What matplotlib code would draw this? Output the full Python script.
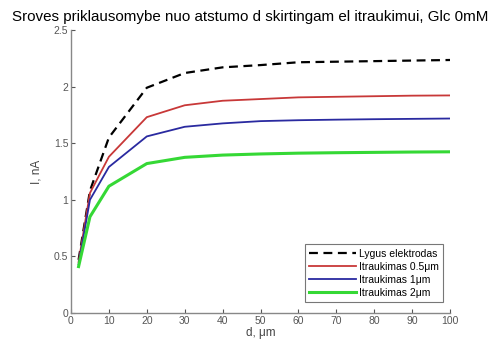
import matplotlib.pyplot as plt
from matplotlib.ticker import FuncFormatter

plt.rcParams["font.family"] = ["Liberation Sans", "DejaVu Sans"]

# distance from the electrode, um
d_um = [2, 5, 10, 20, 30, 40, 50, 60, 70, 80, 90, 100]

# current, nA
i_flat = [0.47, 1.08, 1.55, 1.99, 2.12, 2.17, 2.19, 2.215, 2.22, 2.225, 2.23, 2.235]
i_rec_05 = [0.45, 1.06, 1.38, 1.73, 1.835, 1.875, 1.89, 1.905, 1.91, 1.915, 1.92, 1.922]
i_rec_1 = [0.43, 1.0, 1.29, 1.56, 1.645, 1.675, 1.695, 1.703, 1.708, 1.712, 1.715, 1.718]
i_rec_2 = [0.41, 0.85, 1.12, 1.32, 1.375, 1.395, 1.405, 1.412, 1.416, 1.419, 1.422, 1.424]

labels = ["Lygus elektrodas", "Itraukimas 0.5\u03bcm",
          "Itraukimas 1\u03bcm", "Itraukimas 2\u03bcm"]

fig = plt.figure(figsize=(5.0, 3.47), dpi=100)
ax = fig.add_axes([71 / 500, 1 - 313 / 347, 379 / 500, 283 / 347])

ax.plot(d_um, i_flat, color="black", linestyle=(0, (4, 2.5)), linewidth=1.6,
        label=labels[0])
ax.plot(d_um, i_rec_05, color="#c83838", linewidth=1.3, label=labels[1])
ax.plot(d_um, i_rec_1, color="#2a2aa0", linewidth=1.3, label=labels[2])
ax.plot(d_um, i_rec_2, color="#35d835", linewidth=2.2, label=labels[3])

ax.set_xlim(0, 100)
ax.set_ylim(0, 2.5)
ax.set_xticks(range(0, 101, 10))
ax.set_yticks([0, 0.5, 1, 1.5, 2, 2.5])
ax.yaxis.set_major_formatter(FuncFormatter(lambda v, _: f"{v:g}"))

for side in ("top", "right"):
    ax.spines[side].set_visible(False)
for side in ("left", "bottom"):
    ax.spines[side].set_color("#888888")
    ax.spines[side].set_linewidth(1.0)
ax.tick_params(direction="in", length=3, width=0.8, colors="#555555",
               labelsize=7.5, pad=2)

ax.set_xlabel("d, \u03bcm", fontsize=8.5, color="#444444", labelpad=1)
ax.set_ylabel("I, nA", fontsize=8.5, color="#444444", labelpad=8)

# the original title runs off the right edge; keep it just inside here
fig.text(250 / 500, 1 - 17 / 347,
         "Sroves priklausomybe nuo atstumo d skirtingam el itraukimui, Glc 0mM",
         ha="center", va="center", fontsize=10.9, color="black")

leg = ax.legend(loc="lower right", bbox_to_anchor=(0.995, 0.02), fontsize=7.5,
                handlelength=4.5, handletextpad=0.3, labelspacing=0.3,
                borderpad=0.4, fancybox=False, framealpha=1)
leg.get_frame().set_edgecolor("#777777")
leg.get_frame().set_linewidth(0.8)

fig.savefig("out.png", dpi=100)
